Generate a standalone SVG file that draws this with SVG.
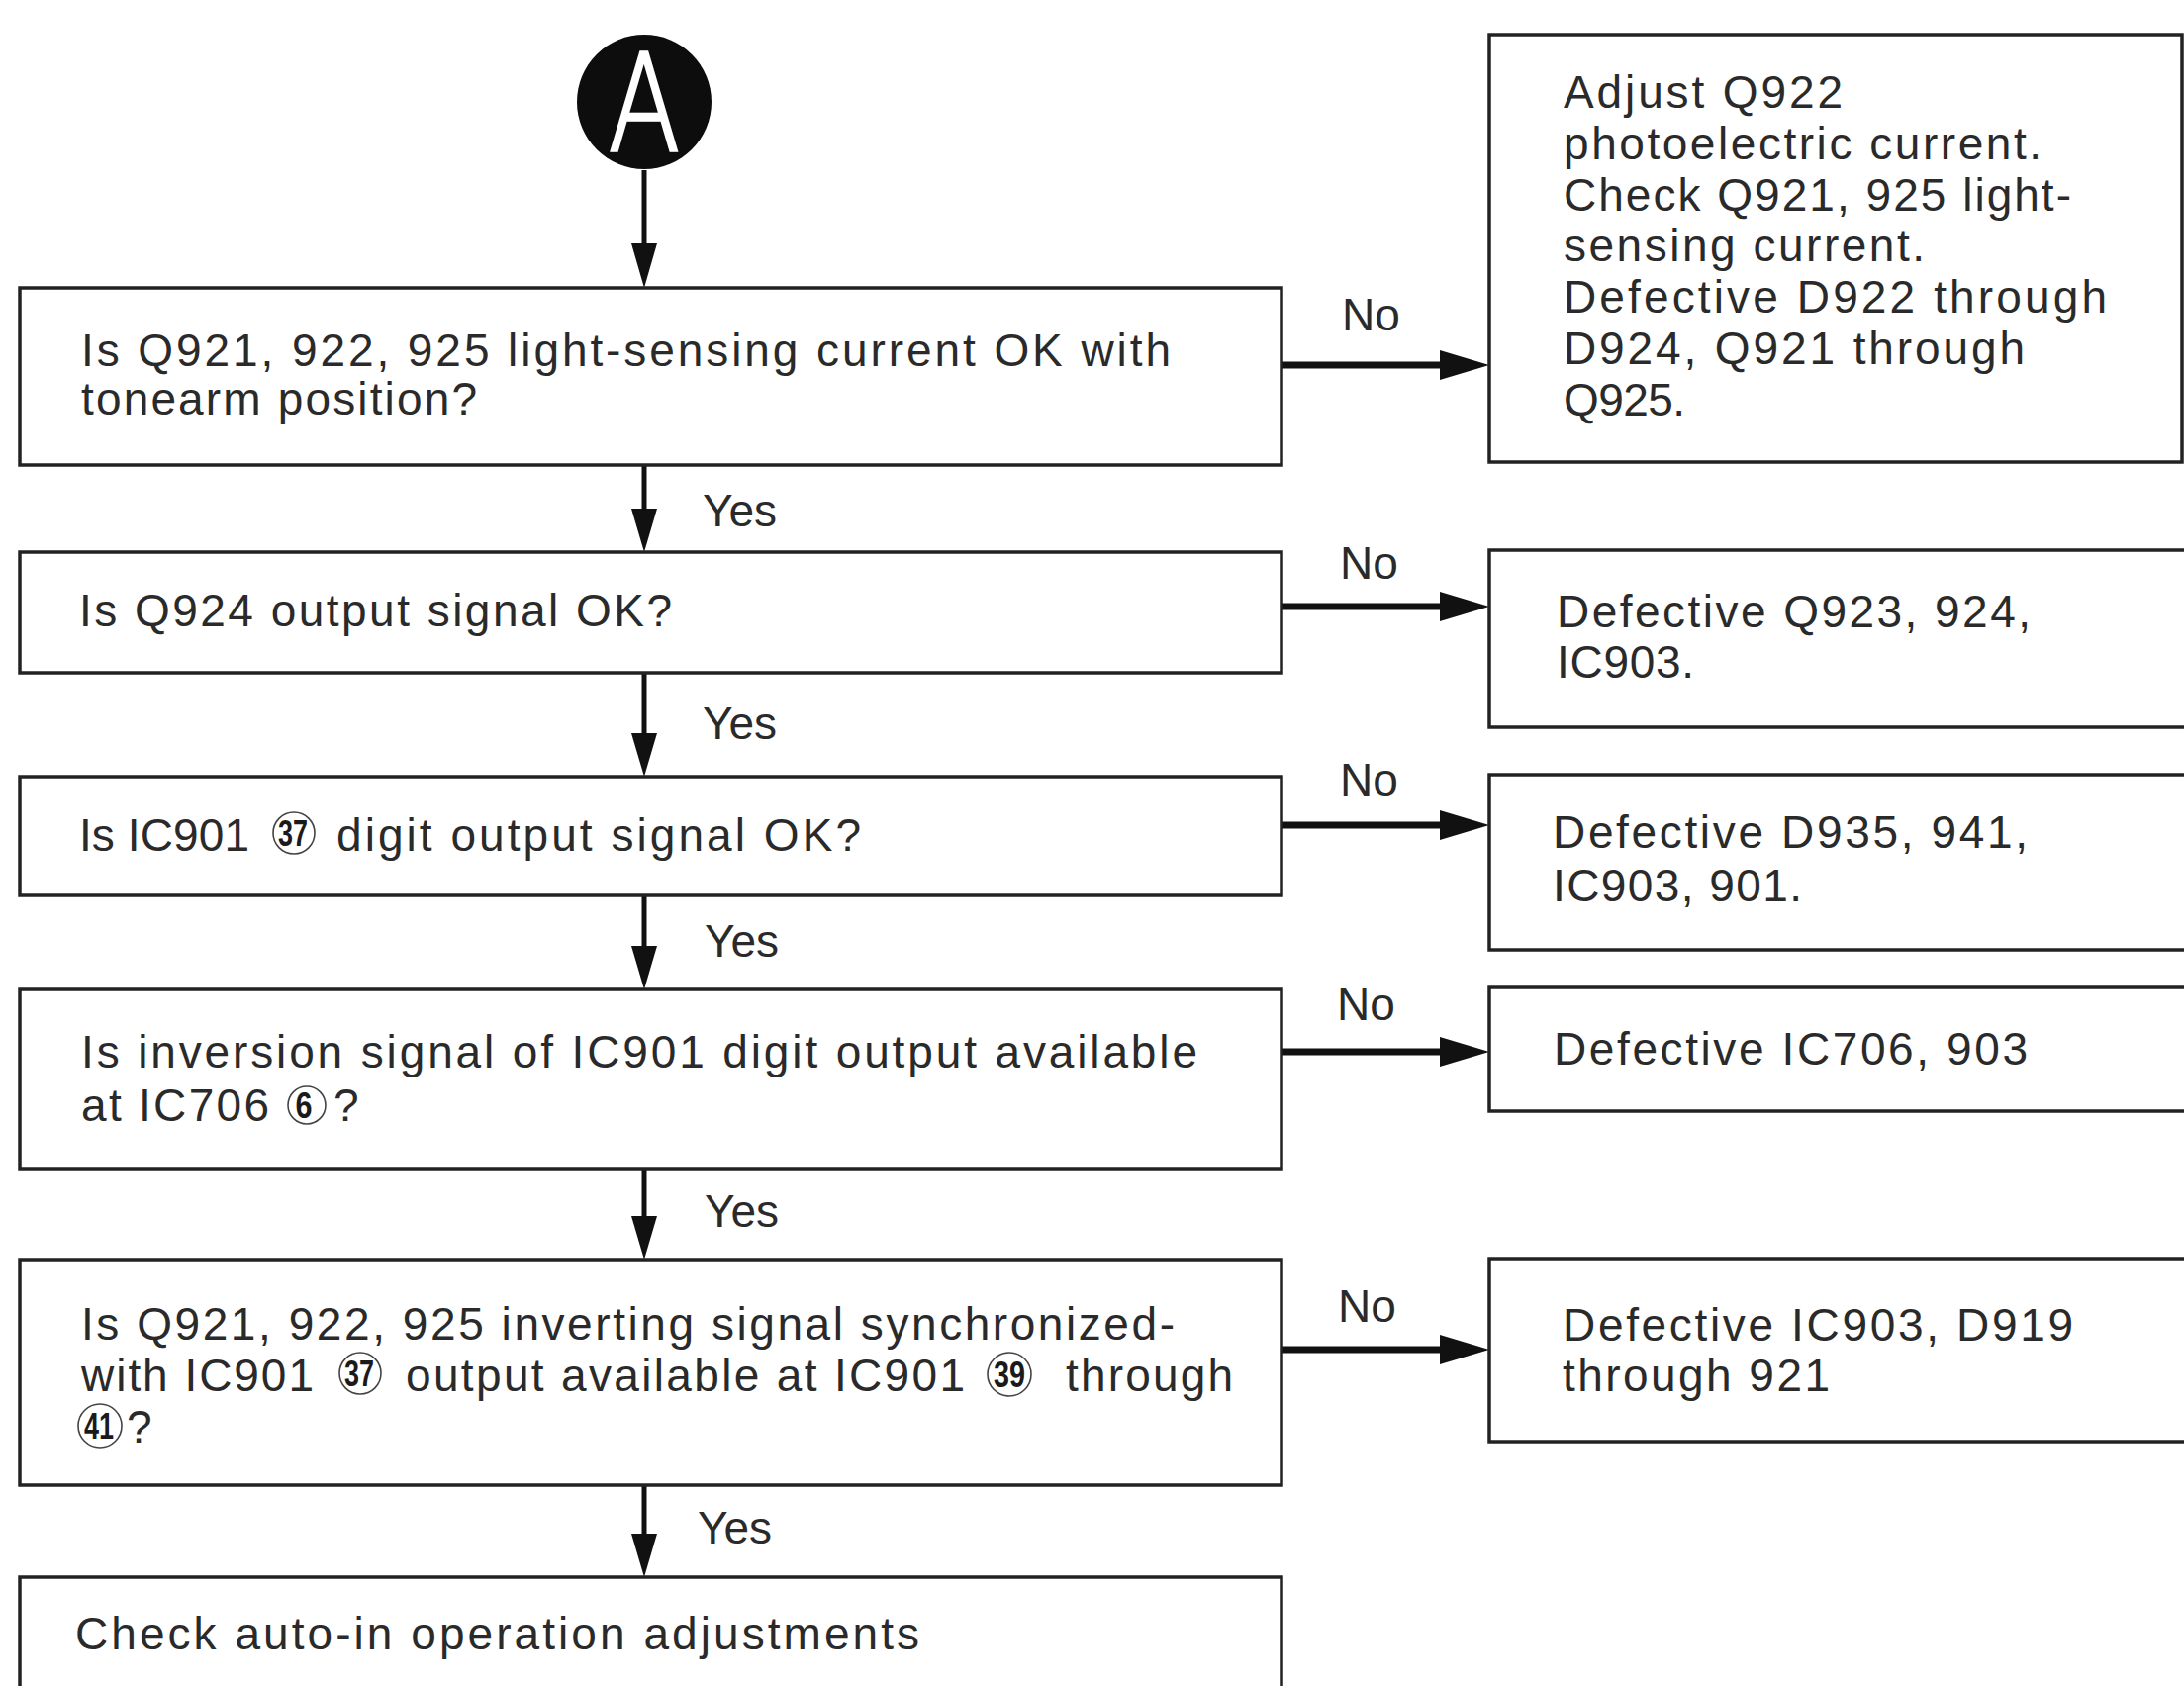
<svg xmlns="http://www.w3.org/2000/svg" width="2207" height="1704" viewBox="0 0 2207 1704">
  <style>
    .box { fill: #fff; stroke: #222; stroke-width: 3.5; }
    .t { font-family: "Liberation Sans", Arial, sans-serif; font-size: 46px; fill: #2a2a2a; }
    .lbl { font-family: "Liberation Sans", Arial, sans-serif; font-size: 46px; fill: #2a2a2a; }
    .pin { fill: none; stroke: #444; stroke-width: 1.6; }
    .pinnum { font-family: "Liberation Sans Narrow", "Liberation Sans", Arial, sans-serif; font-size: 36px; font-weight: bold; fill: #1a1a1a; text-anchor: middle; }
    .down { stroke: #111; stroke-width: 5; fill: none; }
    .side { stroke: #111; stroke-width: 7; fill: none; }
    .head { fill: #111; }
  </style>

  <rect width="2207" height="1704" fill="#fff"/>

  <!-- start connector A -->
  <g id="start-A">
    <circle cx="651" cy="103" r="68" fill="#0d0d0d"/>
    <text x="651" y="152" text-anchor="middle" font-family="DejaVu Sans, Liberation Sans, sans-serif" font-weight="200" font-size="136" fill="#fff" stroke="#fff" stroke-width="3.5" textLength="72" lengthAdjust="spacingAndGlyphs">A</text>
  </g>

  <!-- connectors -->
  <g id="connectors">
    <!-- vertical flow (Yes) -->
    <line class="down" x1="651" y1="172" x2="651" y2="252"/>
    <polygon class="head" points="638,246 664,246 651,291"/>

    <line class="down" x1="651" y1="470" x2="651" y2="520"/>
    <polygon class="head" points="638,514 664,514 651,558"/>

    <line class="down" x1="651" y1="680" x2="651" y2="747"/>
    <polygon class="head" points="638,741 664,741 651,785"/>

    <line class="down" x1="651" y1="905" x2="651" y2="962"/>
    <polygon class="head" points="638,956 664,956 651,1000"/>

    <line class="down" x1="651" y1="1181" x2="651" y2="1235"/>
    <polygon class="head" points="638,1229 664,1229 651,1273"/>

    <line class="down" x1="651" y1="1501" x2="651" y2="1556"/>
    <polygon class="head" points="638,1550 664,1550 651,1594"/>

    <!-- horizontal branches (No) -->
    <line class="side" x1="1295" y1="369" x2="1462" y2="369"/>
    <polygon class="head" points="1455,354 1505,369 1455,384"/>

    <line class="side" x1="1295" y1="613" x2="1462" y2="613"/>
    <polygon class="head" points="1455,598 1505,613 1455,628"/>

    <line class="side" x1="1295" y1="834" x2="1462" y2="834"/>
    <polygon class="head" points="1455,819 1505,834 1455,849"/>

    <line class="side" x1="1295" y1="1063" x2="1462" y2="1063"/>
    <polygon class="head" points="1455,1048 1505,1063 1455,1078"/>

    <line class="side" x1="1295" y1="1364" x2="1462" y2="1364"/>
    <polygon class="head" points="1455,1349 1505,1364 1455,1379"/>

    <!-- branch labels -->
    <text class="lbl" x="710" y="532">Yes</text>
    <text class="lbl" x="710" y="747">Yes</text>
    <text class="lbl" x="712" y="967">Yes</text>
    <text class="lbl" x="712" y="1240">Yes</text>
    <text class="lbl" x="705" y="1560">Yes</text>

    <text class="lbl" x="1356" y="334">No</text>
    <text class="lbl" x="1354" y="585">No</text>
    <text class="lbl" x="1354" y="804">No</text>
    <text class="lbl" x="1351" y="1031">No</text>
    <text class="lbl" x="1352" y="1336">No</text>
  </g>

  <!-- decision steps -->
  <g id="q1">
    <rect class="box" x="20" y="291" width="1275" height="179"/>
    <text class="t" x="82" y="370" textLength="1101">Is Q921, 922, 925 light-sensing current OK with</text>
    <text class="t" x="82" y="419" textLength="400">tonearm position?</text>
  </g>

  <g id="q2">
    <rect class="box" x="20" y="558" width="1275" height="122"/>
    <text class="t" x="80" y="633" textLength="599">Is Q924 output signal OK?</text>
  </g>

  <g id="q3">
    <rect class="box" x="20" y="785" width="1275" height="120"/>
    <text class="t" x="80" y="860" textLength="172">Is IC901</text>
    <circle class="pin" cx="297" cy="842" r="21"/>
    <text class="pinnum" x="296" y="855" textLength="30" lengthAdjust="spacingAndGlyphs">37</text>
    <text class="t" x="340" y="860" textLength="530">digit output signal OK?</text>
  </g>

  <g id="q4">
    <rect class="box" x="20" y="1000" width="1275" height="181"/>
    <text class="t" x="82" y="1079" textLength="1128">Is inversion signal of IC901 digit output available</text>
    <text class="t" x="82" y="1133" textLength="190">at IC706</text>
    <circle class="pin" cx="310" cy="1117" r="19"/>
    <text class="pinnum" x="307" y="1130" textLength="17" lengthAdjust="spacingAndGlyphs">6</text>
    <text class="t" x="337" y="1133">?</text>
  </g>

  <g id="q5">
    <rect class="box" x="20" y="1273" width="1275" height="228"/>
    <text class="t" x="82" y="1354" textLength="1105">Is Q921, 922, 925 inverting signal synchronized-</text>
    <text class="t" x="82" y="1406" textLength="235">with IC901</text>
    <circle class="pin" cx="364" cy="1388" r="21"/>
    <text class="pinnum" x="363" y="1401" textLength="30" lengthAdjust="spacingAndGlyphs">37</text>
    <text class="t" x="410" y="1406" textLength="565">output available at IC901</text>
    <circle class="pin" cx="1020" cy="1389" r="22"/>
    <text class="pinnum" x="1020" y="1402" textLength="32" lengthAdjust="spacingAndGlyphs">39</text>
    <text class="t" x="1077" y="1406" textLength="169">through</text>
    <circle class="pin" cx="101" cy="1441" r="22"/>
    <text class="pinnum" x="100" y="1454" textLength="30" lengthAdjust="spacingAndGlyphs">41</text>
    <text class="t" x="128" y="1458">?</text>
  </g>

  <g id="final-step">
    <rect class="box" x="20" y="1594" width="1275" height="140"/>
    <text class="t" x="76" y="1667" textLength="853">Check auto-in operation adjustments</text>
  </g>

  <!-- remedies -->
  <g id="r1">
    <rect class="box" x="1505" y="35" width="700" height="432"/>
    <text class="t" x="1580" y="109" textLength="282">Adjust Q922</text>
    <text class="t" x="1580" y="161" textLength="483">photoelectric current.</text>
    <text class="t" x="1580" y="213" textLength="513">Check Q921, 925 light-</text>
    <text class="t" x="1580" y="264" textLength="365">sensing current.</text>
    <text class="t" x="1580" y="316" textLength="549">Defective D922 through</text>
    <text class="t" x="1580" y="368" textLength="466">D924, Q921 through</text>
    <text class="t" x="1580" y="420" textLength="123">Q925.</text>
  </g>

  <g id="r2">
    <rect class="box" x="1505" y="556" width="720" height="179"/>
    <text class="t" x="1573" y="634" textLength="479">Defective Q923, 924,</text>
    <text class="t" x="1573" y="685" textLength="139">IC903.</text>
  </g>

  <g id="r3">
    <rect class="box" x="1505" y="783" width="720" height="177"/>
    <text class="t" x="1569" y="857" textLength="480">Defective D935, 941,</text>
    <text class="t" x="1569" y="911" textLength="252">IC903, 901.</text>
  </g>

  <g id="r4">
    <rect class="box" x="1505" y="998" width="720" height="125"/>
    <text class="t" x="1570" y="1076" textLength="479">Defective IC706, 903</text>
  </g>

  <g id="r5">
    <rect class="box" x="1505" y="1272" width="720" height="185"/>
    <text class="t" x="1579" y="1355" textLength="516">Defective IC903, D919</text>
    <text class="t" x="1579" y="1406" textLength="270">through 921</text>
  </g>
</svg>
